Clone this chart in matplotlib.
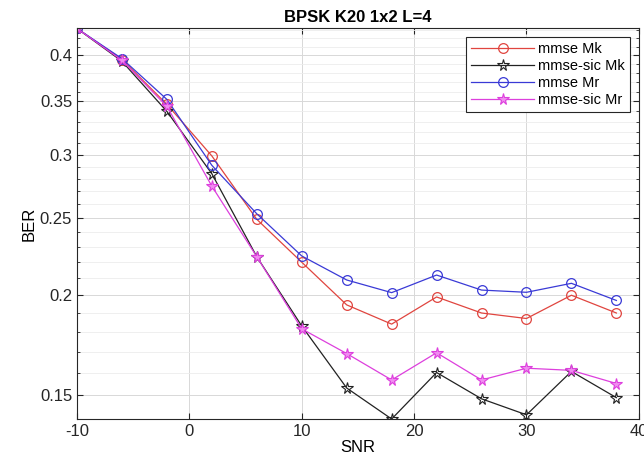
import matplotlib
matplotlib.use("Agg")
import matplotlib.pyplot as plt
import numpy as np
from matplotlib.ticker import FixedLocator, NullFormatter

plt.rcParams["font.family"] = ["Liberation Sans", "DejaVu Sans"]
plt.rcParams["axes.unicode_minus"] = False

snr = [-10, -6, -2, 2, 6, 10, 14, 18, 22, 26, 30, 34, 38]
mmse_mk = [0.432, 0.395, 0.347, 0.299, 0.249, 0.220, 0.1945, 0.184, 0.199, 0.190, 0.187, 0.200, 0.190]
mmse_sic_mk = [0.432, 0.393, 0.340, 0.284, 0.2235, 0.183, 0.153, 0.1399, 0.160, 0.1483, 0.1416, 0.1605, 0.1488]
mmse_mr = [0.432, 0.396, 0.352, 0.291, 0.253, 0.224, 0.209, 0.2015, 0.212, 0.203, 0.2017, 0.207, 0.197]
mmse_sic_mr = [0.432, 0.394, 0.345, 0.274, 0.2235, 0.1815, 0.169, 0.1566, 0.1694, 0.1566, 0.162, 0.161, 0.155]

y_major = [0.15, 0.2, 0.25, 0.3, 0.35, 0.4]
y_minor = np.round(np.arange(0.14, 0.44, 0.01), 2)
x_ticks = [-10, 0, 10, 20, 30, 40]

fig = plt.figure(figsize=(6.44, 4.63), dpi=100)
ax = fig.add_axes([0.1196, 0.095, 0.8724, 0.8445])

ax.semilogy(snr, mmse_mk, color="#e0453f", lw=0.9, marker="o", ms=7,
            mfc="none", mew=0.9, label="mmse Mk")
ax.semilogy(snr, mmse_sic_mk, color="#222222", lw=0.9, marker="*", ms=8.5,
            mfc="none", mew=0.8, label="mmse-sic Mk")
ax.semilogy(snr, mmse_mr, color="#3a3ad6", lw=0.9, marker="o", ms=7,
            mfc="none", mew=0.9, label="mmse Mr")
ax.semilogy(snr, mmse_sic_mr, color="#dd3fdd", lw=0.9, marker="*", ms=8.5,
            mfc="#f08cf0", mew=0.8, label="mmse-sic Mr")

ax.set_xlim(-10, 40)
ax.set_ylim(0.1399, 0.4326)
ax.xaxis.set_major_locator(FixedLocator(x_ticks))
ax.yaxis.set_major_locator(FixedLocator(y_major))
ax.yaxis.set_minor_locator(FixedLocator(y_minor))
ax.yaxis.set_minor_formatter(NullFormatter())
ax.set_yticklabels([f"{v:g}" for v in y_major])

ax.grid(True, which="major", color="#d8d8d8", lw=0.7)
ax.grid(True, which="minor", axis="y", color="#ececec", lw=0.6)
ax.tick_params(which="both", direction="in", top=True, right=True,
               labelsize=12, colors="#262626")
ax.tick_params(which="major", length=4)
ax.tick_params(which="minor", length=2.5)
for s in ax.spines.values():
    s.set_color("#262626")
    s.set_linewidth(0.8)

ax.set_title("BPSK K20 1x2 L=4", fontsize=12, fontweight="bold", pad=4)
ax.set_xlabel("SNR", fontsize=12, labelpad=1)
ax.set_ylabel("BER", fontsize=12, labelpad=2)

leg = ax.legend(loc="upper right", fontsize=10.5, handlelength=4.3,
                borderaxespad=0.6, labelspacing=0.2, borderpad=0.35,
                handletextpad=0.3, fancybox=False, framealpha=1)
leg.get_frame().set_edgecolor("#262626")
leg.get_frame().set_linewidth(0.8)

fig.savefig("out.png", dpi=100)
